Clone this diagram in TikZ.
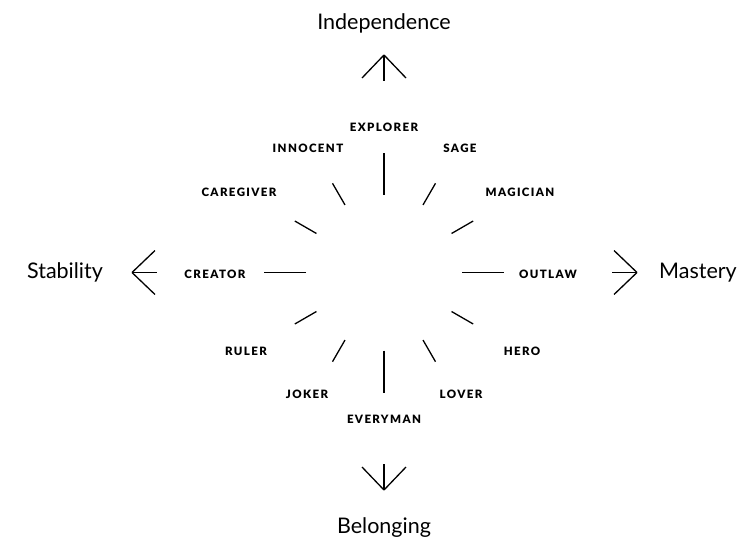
\documentclass[tikz,border=0pt]{standalone}
\usepackage{fontspec}
\setmainfont{Lato}
\newfontfamily\archfont[LetterSpace=12]{Lato Black}
\usetikzlibrary{
    positioning,
}
\tikzstyle{archetype} = [inner sep=0pt, anchor=base,
    font=\archfont\fontsize{11.5}{13}\selectfont]
\tikzstyle{pole} = [inner sep=0pt, anchor=base,
    font=\fontsize{21.5}{24}\selectfont]
\tikzstyle{line} = [draw, line width=1.3pt]

\begin{document}
\begin{tikzpicture}[x=1pt, y=-1pt]
        \useasboundingbox (0,0) rectangle (745,538);
        \coordinate (hub) at (384,272.5);
        % Place nodes
        \node [pole] (independence) at (384,30) {Independence};
        \node [pole] (belonging) at (384,533) {Belonging};
        \node [pole] (stability) at (65,278) {Stability};
        \node [pole] (mastery) at (698,278) {Mastery};
        \node [archetype] (explorer) at (384,131) {EXPLORER};
        \node [archetype] (innocent) at (308,152) {INNOCENT};
        \node [archetype] (sage) at (460,152) {SAGE};
        \node [archetype] (caregiver) at (239,196) {CAREGIVER};
        \node [archetype] (magician) at (520,196) {MAGICIAN};
        \node [archetype] (creator) at (215,278) {CREATOR};
        \node [archetype] (outlaw) at (548,278) {OUTLAW};
        \node [archetype] (ruler) at (246,355) {RULER};
        \node [archetype] (hero) at (522,355) {HERO};
        \node [archetype] (joker) at (307,398) {JOKER};
        \node [archetype] (lover) at (461,398) {LOVER};
        \node [archetype] (everyman) at (384,423) {EVERYMAN};
        % Draw spokes
        \foreach \a in {0,90,180,270}
            \path [line] (hub) ++(\a:78) -- ++(\a:42);
        \foreach \a in {30,60,120,150,210,240,300,330}
            \path [line] (hub) ++(\a:78) -- ++(\a:25);
        % Draw arrows
        \coordinate (up) at (384,55);
        \coordinate (down) at (384,490);
        \coordinate (left) at (132,272.5);
        \coordinate (right) at (637,272.5);
        \path [line] (up) -- ++(0,26);
        \path [line] (up) -- ++(-22,23);
        \path [line] (up) -- ++(22,23);
        \path [line] (down) -- ++(0,-26);
        \path [line] (down) -- ++(-22,-23);
        \path [line] (down) -- ++(22,-23);
        \path [line] (left) -- ++(25,0);
        \path [line] (left) -- ++(23,-22);
        \path [line] (left) -- ++(23,22);
        \path [line] (right) -- ++(-25,0);
        \path [line] (right) -- ++(-23,-22);
        \path [line] (right) -- ++(-23,22);
    \end{tikzpicture}
\end{document}
